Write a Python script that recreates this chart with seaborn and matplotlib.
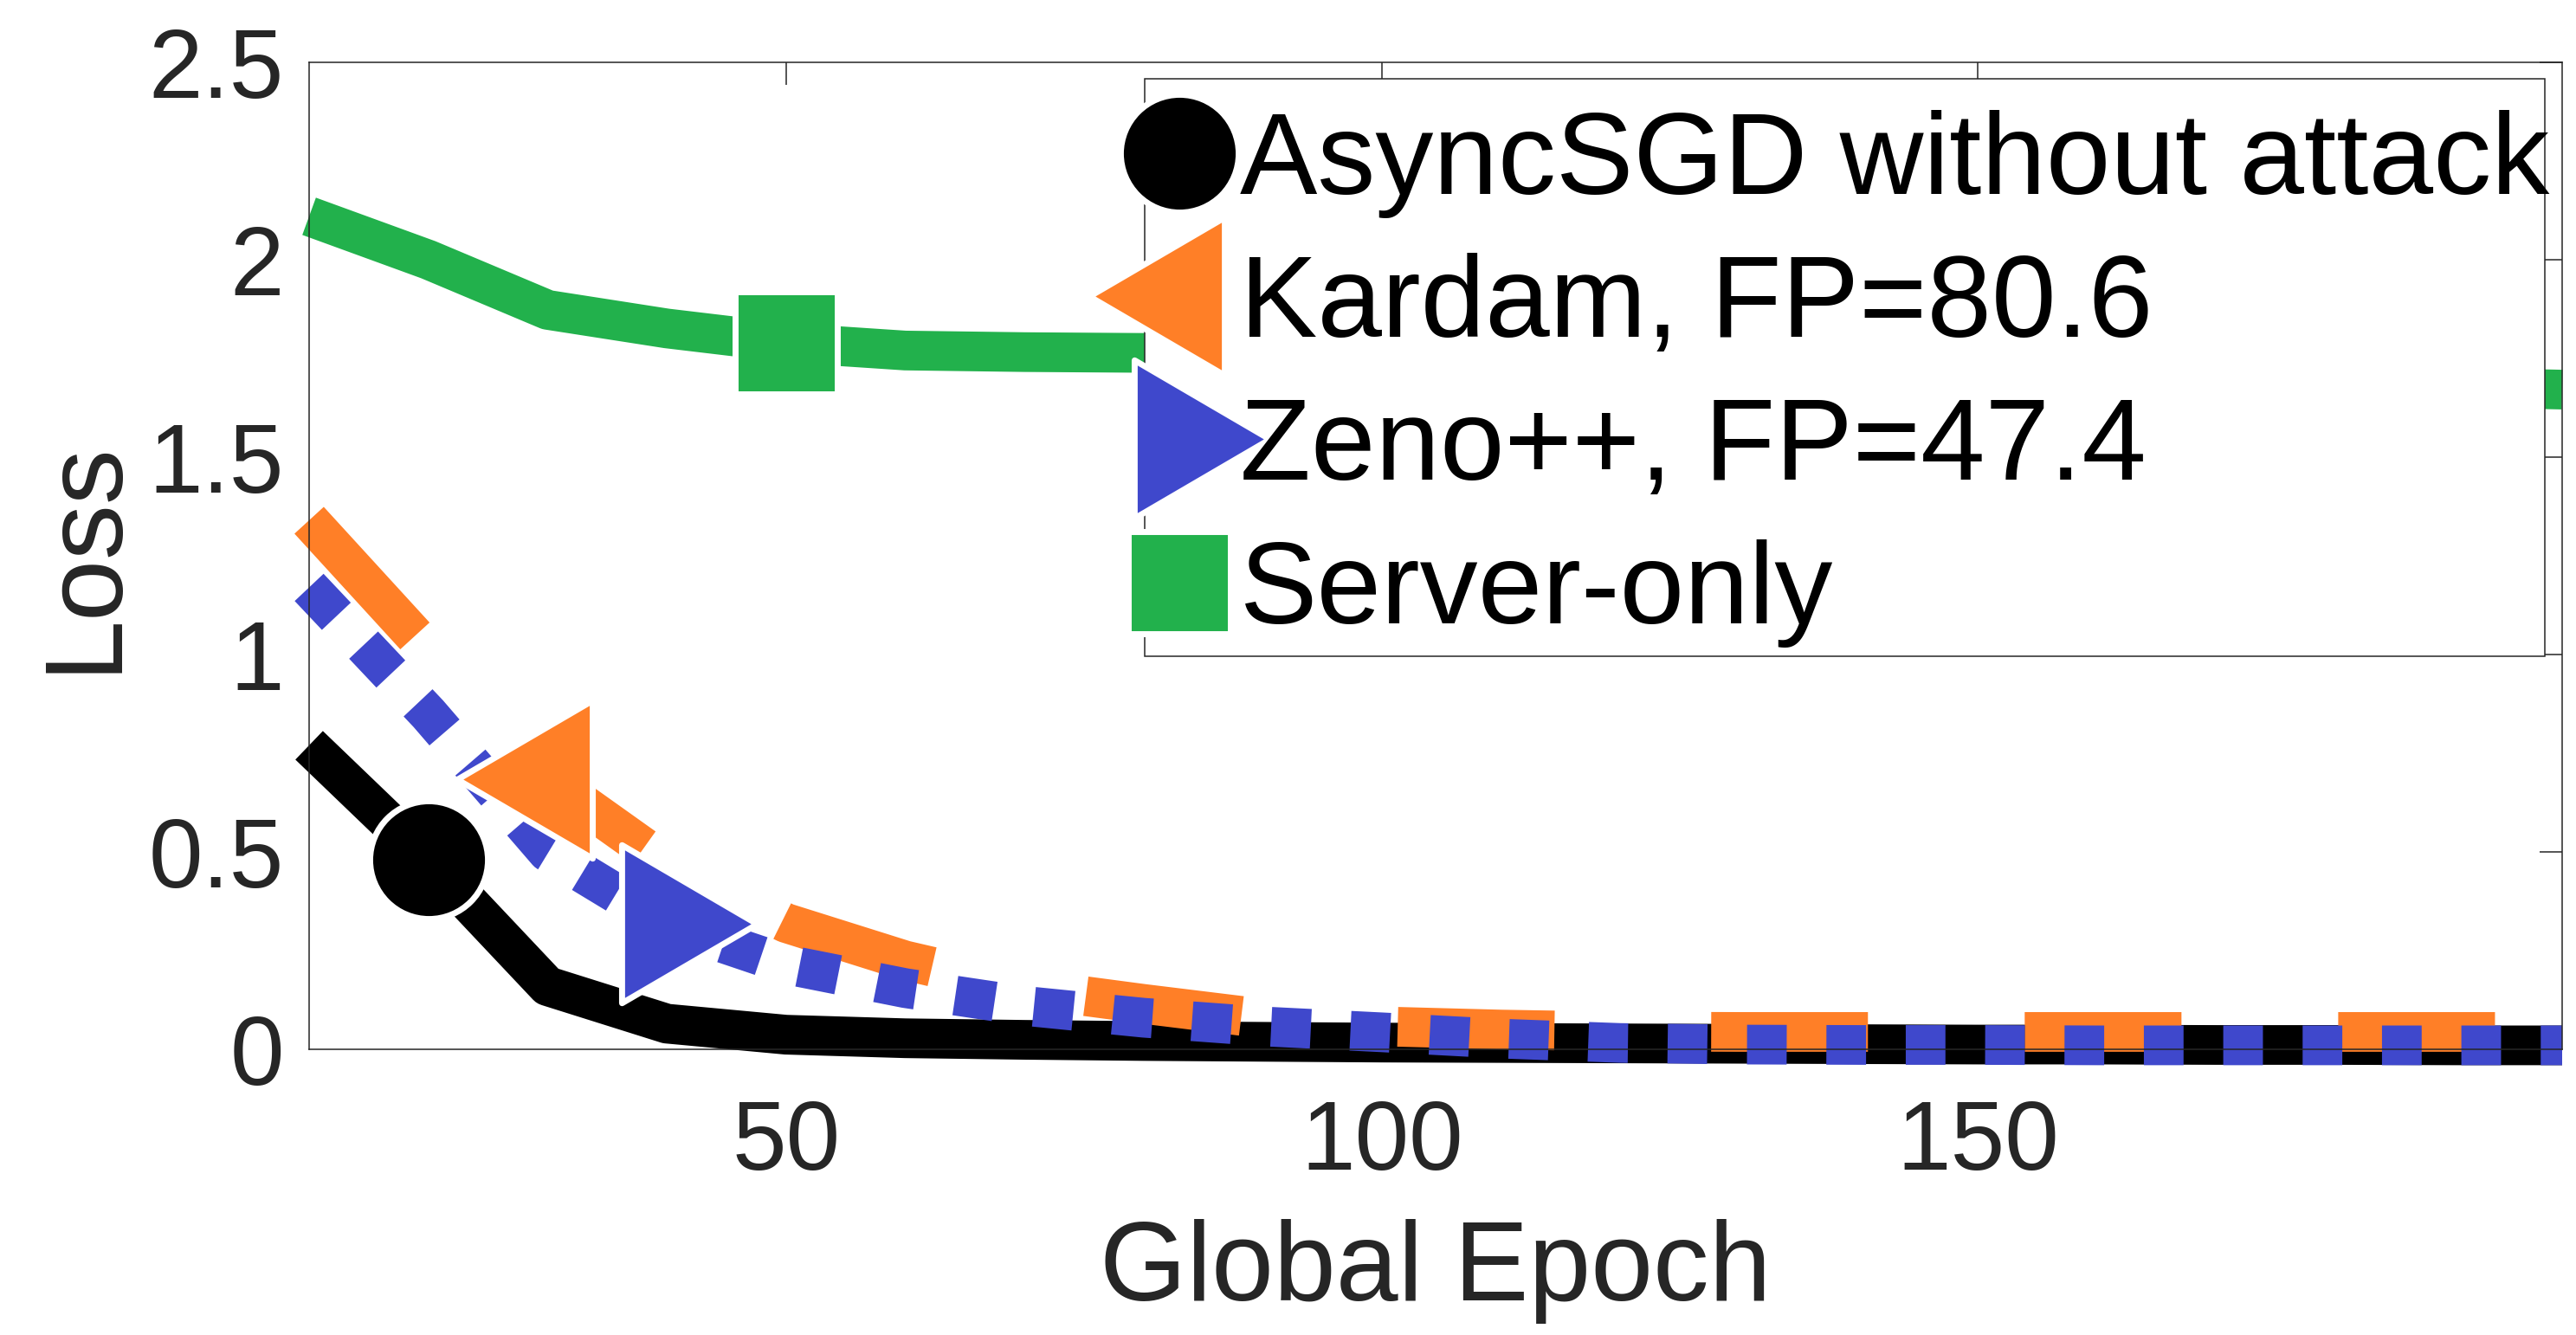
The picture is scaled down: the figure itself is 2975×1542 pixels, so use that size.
import matplotlib
matplotlib.use("Agg")
import matplotlib.pyplot as plt
from matplotlib.lines import Line2D
from matplotlib.patches import Rectangle
import seaborn as sns

# Loss vs global epoch
epochs = [10, 20, 30, 40, 50, 60, 70, 80, 90, 100,
          110, 120, 130, 140, 150, 160, 170, 180, 190, 199]
async_sgd = [0.77, 0.48, 0.16, 0.065, 0.037, 0.028, 0.024, 0.021, 0.019, 0.017,
             0.016, 0.015, 0.014, 0.013, 0.012, 0.012, 0.011, 0.011, 0.010, 0.010]
kardam = [1.34, 1.01, 0.685, 0.47, 0.32, 0.225, 0.155, 0.115, 0.078, 0.058,
          0.050, 0.045, 0.044, 0.044, 0.044, 0.044, 0.044, 0.044, 0.044, 0.044]
zeno = [1.17, 0.85, 0.50, 0.317, 0.215, 0.155, 0.11, 0.08, 0.058, 0.043,
        0.027, 0.016, 0.012, 0.011, 0.011, 0.010, 0.010, 0.010, 0.010, 0.010]
server_only = [2.11, 2.00, 1.873, 1.826, 1.79, 1.77, 1.766, 1.764, 1.755, 1.745,
               1.735, 1.727, 1.719, 1.712, 1.705, 1.698, 1.69, 1.684, 1.677, 1.671]

labels = ["AsyncSGD without attack", "Kardam, FP=80.6", "Zeno++, FP=47.4", "Server-only"]
marker_idx = [1, 2, 3, 4]   # one marker per curve (epochs 20, 30, 40, 50)
xticks = [50, 100, 150]
yticks = [0, 0.5, 1, 1.5, 2, 2.5]
ytick_labels = ["0", "0.5", "1", "1.5", "2", "2.5"]

colors = ["#000000", "#FF7F27", "#3F48CC", "#22B14C"]

sns.set_theme(style="white")
plt.rcParams["font.family"] = ["Liberation Sans", "DejaVu Sans"]

# MATLAB-like triangles, centred on the centroid
tri_left = [(-1, 0), (0.5, 0.876), (0.5, -0.876), (-1, 0)]
tri_right = [(1, 0), (-0.5, 0.876), (-0.5, -0.876), (1, 0)]
markers = ["o", tri_left, tri_right, "s"]
msizes = [98, 150, 150, 85]
styles = ["-", (0, (3.95, 3.95)), (0, (1, 1)), "-"]
LW = 33
MEW = 5

fig = plt.figure(figsize=(29.75, 15.42), dpi=100)
ax = fig.add_axes([357 / 2975, 1 - 1212 / 1542, 2602 / 2975, 1140 / 1542])

series = [async_sgd, kardam, zeno, server_only]
for ys, c, ls in zip(series, colors, styles):
    sns.lineplot(x=epochs, y=ys, ax=ax, color=c, lw=LW, linestyle=ls,
                 solid_capstyle="butt", dash_capstyle="butt",
                 clip_on=False, legend=False, sort=False)

for ys, c, m, ms, mi in zip(series, colors, markers, msizes, marker_idx):
    ax.plot(epochs, ys, ls="none", marker=m, markersize=ms, color=c,
            markeredgecolor="white", markeredgewidth=MEW, markevery=[mi],
            clip_on=False, zorder=5)

ax.set_xlim(10, 199)
ax.set_ylim(0, 2.5)
ax.set_xticks(xticks)
ax.set_yticks(yticks)
ax.set_yticklabels(ytick_labels)

for s in ax.spines.values():
    s.set_color("#262626")
    s.set_linewidth(1.1)
    s.set_visible(True)
ax.tick_params(axis="both", direction="in", length=19, width=1.1, color="#262626",
               labelsize=81, labelcolor="#262626", top=True, right=True)
ax.tick_params(axis="x", pad=41)
ax.tick_params(axis="y", pad=21)

ax.set_xlabel("Global Epoch", fontsize=93, color="#262626", labelpad=24)
ax.set_ylabel("Loss", fontsize=92, color="#262626", labelpad=9)

# legend frame drawn separately so the entries can sit freely inside it
frame = Rectangle((0.3709, 0.3982), 0.9923 - 0.3709, 0.9833 - 0.3982,
                  transform=ax.transAxes, facecolor="white", edgecolor="#262626",
                  lw=1.1, zorder=8, clip_on=False)
ax.add_patch(frame)

handles = [Line2D([], [], ls="none", marker=m, markersize=ms, color=c,
                  markeredgecolor="white", markeredgewidth=MEW)
           for c, m, ms in zip(colors, markers, msizes)]
leg = ax.legend(handles, labels, loc="upper left", bbox_to_anchor=(0.3782, 0.9518),
                fontsize=96.5, frameon=False, borderaxespad=0, borderpad=0,
                labelspacing=0.30, handlelength=0.31, handletextpad=0.37,
                numpoints=1)
leg.set_zorder(10)
for t in leg.get_texts():
    t.set_color("black")

fig.savefig("out.png", dpi=100, facecolor="white")
